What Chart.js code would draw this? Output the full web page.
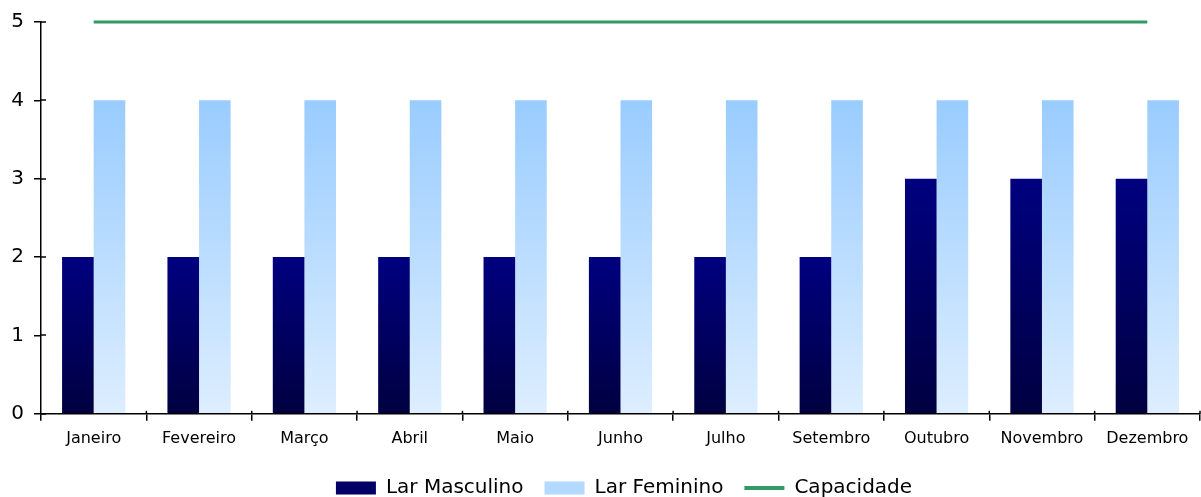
<!DOCTYPE html>
<html>
<head>
<meta charset="utf-8">
<script src="https://cdn.jsdelivr.net/npm/chart.js@4"></script>
<style>
html,body{margin:0;padding:0;background:#fff;}
#wrap{width:1201px;height:497px;position:relative;}
</style>
</head>
<body>
<div id="wrap"><canvas id="c"></canvas></div>
<script>
const categories = ['Janeiro','Fevereiro','Março','Abril','Maio','Junho','Julho','Setembro','Outubro','Novembro','Dezembro'];
const larMasculino = [2,2,2,2,2,2,2,2,3,3,3];
const larFeminino = [4,4,4,4,4,4,4,4,4,4,4];
const capacidade = [5,5,5,5,5,5,5,5,5,5,5];
const yTicks = [0,1,2,3,4,5];

const FONT = "'DejaVu Sans', Verdana, sans-serif";

function barGradient(top, bottom) {
  return function(context) {
    const chart = context.chart;
    const ys = chart.scales.y;
    if (!ys || context.raw === undefined) return top;
    const y0 = ys.getPixelForValue(0);
    const y1 = ys.getPixelForValue(context.raw);
    if (!isFinite(y0) || !isFinite(y1) || y0 === y1) return top;
    const g = chart.ctx.createLinearGradient(0, y1, 0, y0);
    g.addColorStop(0, top);
    g.addColorStop(1, bottom);
    return g;
  };
}

const innerTicks = {
  id: 'innerTicks',
  afterLayout(chart) {
    if (chart.legend) { chart.legend.left += 24; chart.legend.right += 24; }
  },
  afterDraw(chart) {
    const {ctx, scales:{x, y}} = chart;
    ctx.save();
    ctx.strokeStyle = '#000';
    ctx.lineWidth = 1.5;
    yTicks.forEach(v => {
      const py = Math.round(y.getPixelForValue(v));
      ctx.beginPath(); ctx.moveTo(x.left, py); ctx.lineTo(x.left + 5, py); ctx.stroke();
    });
    for (let i = 1; i <= categories.length; i++) {
      const px = x.left + (x.right - x.left) * i / categories.length;
      ctx.beginPath(); ctx.moveTo(px, y.bottom); ctx.lineTo(px, y.bottom - 3); ctx.stroke();
    }
    ctx.restore();
  }
};

new Chart(document.getElementById('c'), {
  data: {
    labels: categories,
    datasets: [
      {
        type: 'bar', label: 'Lar Masculino', data: larMasculino,
        backgroundColor: barGradient('#000080', '#000040'),
        categoryPercentage: 0.6, barPercentage: 1.0, order: 2
      },
      {
        type: 'bar', label: 'Lar Feminino', data: larFeminino,
        backgroundColor: barGradient('#99ccff', '#ddeeff'),
        categoryPercentage: 0.6, barPercentage: 1.0, order: 2
      },
      {
        type: 'line', label: 'Capacidade', data: capacidade,
        borderColor: '#339966', backgroundColor: '#339966', borderWidth: 3,
        pointRadius: 0, pointHoverRadius: 0, fill: false, order: 1, clip: false
      }
    ]
  },
  options: {
    responsive: true, maintainAspectRatio: false, animation: false,
    layout: { padding: { top: 12, right: 1, left: 0, bottom: -11 } },
    scales: {
      x: {
        offset: true,
        grid: { display: true, drawOnChartArea: false, offset: true, tickLength: 7, color: '#000', lineWidth: 1.5 },
        border: { display: true, color: '#000', width: 1.5 },
        ticks: { color: '#000', font: { family: FONT, size: 16 }, padding: 8.5, maxRotation: 0, autoSkip: false }
      },
      y: {
        min: 0, max: 5,
        afterFit(scale) { scale.width = 41; },
        grid: { display: true, drawOnChartArea: false, tickLength: 7, color: '#000', lineWidth: 1.5 },
        border: { display: true, color: '#000', width: 1.5 },
        ticks: { stepSize: 1, color: '#000', font: { family: FONT, size: 20 }, padding: 10 }
      }
    },
    plugins: {
      tooltip: { enabled: false },
      legend: {
        position: 'bottom',
        labels: {
          font: { family: FONT, size: 20 }, color: '#000',
          usePointStyle: true, pointStyleWidth: 40, boxHeight: 13, padding: 21,
          generateLabels(chart) {
            return [
              { text: 'Lar Masculino', fillStyle: '#000066', strokeStyle: '#000066', lineWidth: 0, pointStyle: 'rect', datasetIndex: 0, fontColor: '#000' },
              { text: 'Lar Feminino', fillStyle: '#b3d9ff', strokeStyle: '#b3d9ff', lineWidth: 0, pointStyle: 'rect', datasetIndex: 1, fontColor: '#000' },
              { text: 'Capacidade', fillStyle: '#339966', strokeStyle: '#339966', lineWidth: 4, pointStyle: 'line', datasetIndex: 2, fontColor: '#000' }
            ];
          }
        }
      }
    }
  },
  plugins: [innerTicks]
});
</script>
</body>
</html>
